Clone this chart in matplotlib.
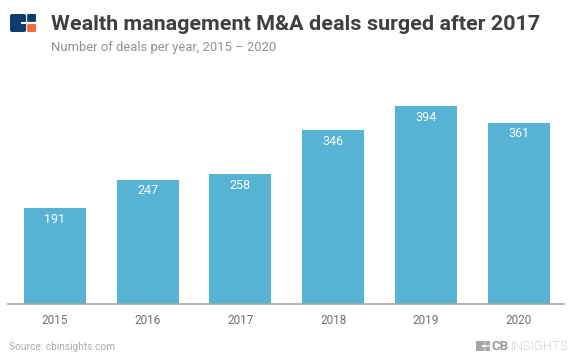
import matplotlib
matplotlib.use("Agg")
import matplotlib.pyplot as plt
from matplotlib.patches import FancyBboxPatch, Rectangle

years = ["2015", "2016", "2017", "2018", "2019", "2020"]
deals = [191, 247, 258, 346, 394, 361]

W, H = 572, 364
plt.rcParams['font.family'] = ['Roboto', 'DejaVu Sans']

fig = plt.figure(figsize=(W / 100, H / 100), dpi=100)
ax = fig.add_axes([8 / W, 1 - 304 / H, 556 / W, 214 / H])
bars = ax.bar(years, deals, width=0.67, color="#56b3d4")
for bar, v in zip(bars, deals):
    ax.text(bar.get_x() + bar.get_width() / 2, v - 22, str(v), ha='center', va='center',
            color='white', fontsize=9)
ax.set_xlim(-0.507, 5.49)
ax.set_ylim(0, 426)
ax.set_yticks([])
for s in ['top', 'left', 'right']:
    ax.spines[s].set_visible(False)
ax.spines['bottom'].set_color('#a5a5a5')
ax.spines['bottom'].set_linewidth(1.2)
ax.tick_params(axis='x', length=0, pad=7, labelsize=8.5, labelcolor='#6f6f6f')


def fig_text(x, y, s, **kw):
    fig.text(x / W, 1 - y / H, s, va='center', **kw)


fig_text(51, 24, "Wealth management M&A deals surged after 2017", fontsize=15.45,
         fontweight='bold', color='#3f3f3f')
fig_text(51, 48, "Number of deals per year, 2015 \u2013 2020", fontsize=9.4, color='#909090')
fig_text(9, 347, "Source: cbinsights.com", fontsize=7.3, color='#ababab')
fig_text(492, 346, "CB", fontsize=9.5, fontweight='bold', color='#9a9a9a')
fig_text(510, 346, "INSIGHTS", fontsize=9.5, fontweight='light', color='#a5a5a5')

# logos, in pixel coords
over = fig.add_axes([0, 0, 1, 1])
over.set_xlim(0, W)
over.set_ylim(H, 0)
over.axis('off')
over.patch.set_alpha(0)


def logo(x, y, w, h, c1, c2, c3):
    r = h * 0.12
    over.add_patch(FancyBboxPatch((x + r, y + r), w * 0.62 - 2 * r, h - 2 * r,
                                  boxstyle=f"round,pad={r}", fc=c1, ec='none'))
    over.add_patch(Rectangle((x + w * 0.42, y + h * 0.42), w * 0.2, h * 0.16, fc='white', ec='none'))
    over.add_patch(FancyBboxPatch((x + w * 0.66 + r / 2, y + r / 2), w * 0.34 - r, h * 0.44 - r,
                                  boxstyle=f"round,pad={r / 2}", fc=c2, ec='none'))
    over.add_patch(FancyBboxPatch((x + w * 0.66 + r / 2, y + h * 0.56 + r / 2), w * 0.34 - r, h * 0.44 - r,
                                  boxstyle=f"round,pad={r / 2}", fc=c3, ec='none'))


logo(10, 14, 26, 18, '#0f3c6e', '#0f3c6e', '#f26a36')
logo(476, 341, 14, 10, '#a5a5a5', '#a5a5a5', '#a5a5a5')

fig.savefig("out.png", dpi=100, facecolor='white')
